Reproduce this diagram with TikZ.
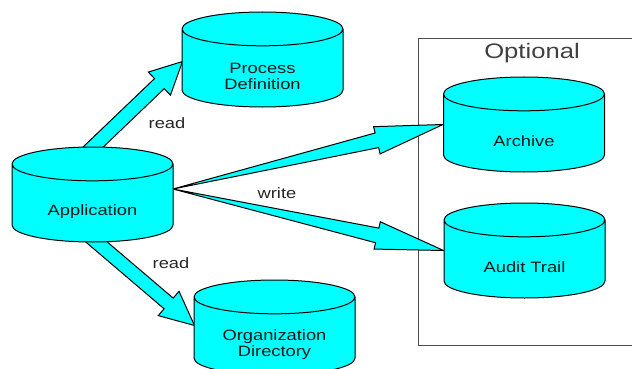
\documentclass[tikz,border=0pt]{standalone}
\usepackage{fontspec}
\setmainfont{Liberation Sans}[FakeStretch=1.22]
\usetikzlibrary{shapes.geometric, calc, backgrounds}

\definecolor{storecyan}{RGB}{0,255,255}

\tikzset{
    store/.style={cylinder, shape border rotate=90, aspect=0.21, draw, line width=1pt,
        fill=storecyan, text width=161pt, minimum height=95pt, inner sep=0pt,
        anchor=shape center},
    storetext/.style={align=center, font=\fontsize{15}{16}\selectfont, text=black!90},
    flow/.style={draw, line width=1pt, fill=storecyan, line join=miter},
    tag/.style={font=\fontsize{15}{16}\selectfont, text=black!85},
}

% block arrow: from, to, tail half width, shaft half width, head half width, head length
\newcommand{\flowarrow}[6]{%
    \path ($(#2)!#6!(#1)$) coordinate (hb);
    \draw[flow] ($(#1)!#3!90:(#2)$) -- ($(hb)!#4!90:(#2)$) -- ($(hb)!#5!90:(#2)$) -- (#2)
        -- ($(hb)!#5!-90:(#2)$) -- ($(hb)!#4!-90:(#2)$) -- ($(#1)!#3!-90:(#2)$) -- cycle;
}

\begin{document}
\begin{tikzpicture}[x=1pt, y=-1pt]
        \useasboundingbox (0,0) rectangle (632,369);

        \node[store] at (92.5, 194.5)  (app)     {};
        \node[store] at (262.5, 59.5)  (procdef) {};
        \node[store] at (524, 124.5)   (archive) {};
        \node[store] at (524.5, 250.5) (audit)   {};
        \node[store] at (274.5, 327.5) (orgdir)  {};

        \node[storetext] at ([yshift=-17pt]app.shape center)     (apptext)     {Application};
        \node[storetext] at ([yshift=-17pt]procdef.shape center) (procdeftext) {Process\\Definition};
        \node[storetext] at ([yshift=-17pt]archive.shape center) (archivetext) {Archive};
        \node[storetext] at ([yshift=-17pt]audit.shape center)   (audittext)   {Audit Trail};
        \node[storetext] at ([yshift=-17pt]orgdir.shape center)  (orgdirtext)  {Organization\\Directory};

        \node[font=\fontsize{21}{24}\selectfont, text=black!75] at (532, 53) (optional) {Optional};

        \node[tag] at (167, 123) (readup)   {read};
        \node[tag] at (277, 193) (write)    {write};
        \node[tag] at (171, 263) (readdown) {read};

        % arrow ends on the drums
        \coordinate (readA)  at ([xshift=-15.5pt, yshift=32pt]app.shape center);
        \coordinate (readB)  at ([xshift=-16.5pt, yshift=-30pt]app.shape center);
        \coordinate (writeA) at ([xshift=80.5pt, yshift=5.5pt]app.shape center);
        \coordinate (tipPD)  at ([xshift=-80pt, yshift=-2pt]procdef.shape center);
        \coordinate (tipAR)  at ([xshift=-81pt]archive.shape center);
        \coordinate (tipAU)  at ([xshift=-81pt]audit.shape center);
        \coordinate (tipOD)  at ([xshift=-80pt, yshift=2pt]orgdir.shape center);

        \begin{scope}[on background layer]
            \draw[black!70, line width=0.8pt] (418, 38) rectangle (660, 345);
            \flowarrow{readA}{tipPD}{7pt}{7pt}{16pt}{32pt}
            \flowarrow{readB}{tipOD}{7pt}{7pt}{16pt}{34pt}
            \flowarrow{writeA}{tipAR}{0pt}{7.5pt}{14pt}{68pt}
            \flowarrow{writeA}{tipAU}{0pt}{7.5pt}{14pt}{68pt}
        \end{scope}
    \end{tikzpicture}
\end{document}
